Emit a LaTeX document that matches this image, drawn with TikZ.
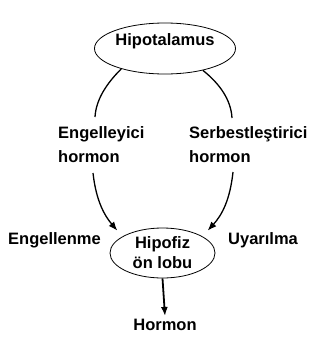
\documentclass[tikz,border=0pt]{standalone}
\usepackage{fontspec}
\setmainfont{Liberation Sans}
\usetikzlibrary{shapes.geometric,arrows.meta}
\tikzset{
  organ/.style={draw,ellipse,line width=.8pt,inner sep=0pt,align=center},
  txt/.style={inner sep=0pt,align=left},
  path/.style={line width=1.3pt}
}
\begin{document}
\begin{tikzpicture}[x=1pt,y=-1pt,>={Latex[length=9pt,width=7pt]},
    font=\fontsize{16.5}{20}\selectfont\bfseries]
  \useasboundingbox (0,0) rectangle (326,338);
  \node[organ,minimum width=141pt,minimum height=51pt,
        text height=12pt,text depth=19pt] (hypo) at (165,48.5) {Hipotalamus};
  \node[organ,minimum width=105pt,minimum height=50pt] (hipofiz) at (162.5,253)
    {Hipofiz\\ön lobu};
  \node[txt,anchor=north west] (engH) at (58,126)
    {Engelleyici\\[4pt]hormon};
  \node[txt,anchor=north west] (serH) at (189,126)
    {Serbestleştirici\\[4pt]hormon};
  \node[txt,anchor=north west] (engl) at (8,232.5) {Engellenme};
  \node[txt,anchor=north west] (uyar) at (228,232.5) {Uyarılma};
  \node[txt,anchor=north] (horm) at (165,319) {Hormon};
  % ends of the curves above and below the labels
  \coordinate (l1) at (95,117);
  \coordinate (l2) at (93,173);
  \coordinate (r1) at (232,118);
  \coordinate (r2) at (233,172);
  \draw[path] (hypo.205) .. controls (106,84) and (96,100) .. (l1);
  \draw[path,->] (l2) .. controls (96,200) and (104,215) .. ([shift={(-3,-7)}]hipofiz.160);
  \draw[path] (hypo.330) .. controls (220,84) and (231,100) .. (r1);
  \draw[path,->] (r2) .. controls (230,200) and (222,215) .. ([shift={(3,-7)}]hipofiz.20);
  \draw[line width=1.8pt,->] (hipofiz.south) -- ([yshift=3pt]horm.north);
\end{tikzpicture}
\end{document}
